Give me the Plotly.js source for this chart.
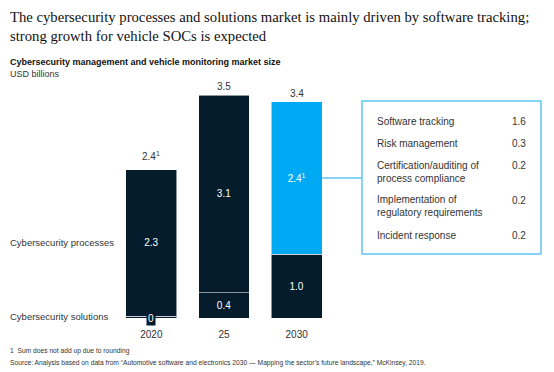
<!DOCTYPE html>
<html>
<head>
<meta charset="utf-8">
<script src="https://cdn.plot.ly/plotly-3.0.1.min.js"></script>
<style>html,body{margin:0;padding:0;background:#fff;}#chart{width:554px;height:372px;}</style>
</head>
<body>
<div id="chart"></div>
<script>
// ---- data ----
var years = ['2020', '25', '2030'];
var solutions = [0.03, 0.4, 1.0];
var solutionLabels = ['', '0.4', '1.0'];
var processes = [2.3, 3.1, 2.4];
var processLabels = ['2.3', '3.1', '2.4<sup>1</sup>'];
var totals = [2.4, 3.5, 3.4];
var totalLabels = ['2.4<sup>1</sup>', '3.5', '3.4'];
var breakdownNames = ['Software tracking', 'Risk management', 'Certification/auditing of<br>process compliance', 'Implementation of<br>regulatory requirements', 'Incident response'];
var breakdownValues = [1.6, 0.3, 0.2, 0.2, 0.2];

var NAVY = '#051C2C', BLUE = '#00A9F4', TXT = '#333333';
var SANS = '"Liberation Sans", Arial, sans-serif';

var traces = [
  {type: 'bar', x: years, y: solutions, text: solutionLabels, textposition: 'inside',
   insidetextanchor: 'middle', textangle: 0,
   textfont: {color: '#ffffff', size: 10, family: SANS},
   marker: {color: NAVY, line: {color: 'rgba(255,255,255,0.55)', width: 1}},
   hoverinfo: 'skip', showlegend: false},
  {type: 'bar', x: years, y: processes, text: processLabels, textposition: 'inside',
   insidetextanchor: 'middle', textangle: 0,
   textfont: {color: '#ffffff', size: 10, family: SANS},
   marker: {color: [NAVY, NAVY, BLUE], line: {color: 'rgba(255,255,255,0.55)', width: 1}},
   hoverinfo: 'skip', showlegend: false}
];

var ann = [];
// title
ann.push({x: -0.491, y: 1.272, xref: 'paper', yref: 'paper',
  text: 'The cybersecurity processes and solutions market is mainly driven by software tracking;<br>strong growth for vehicle SOCs is expected',
  showarrow: false, xanchor: 'left', yanchor: 'middle', align: 'left',
  font: {family: '"Liberation Serif", "Times New Roman", serif', size: 14.7, color: '#111'}});
// totals (category index positions)
for (var i = 0; i < years.length; i++) {
  ann.push({x: i, y: totals[i], xref: 'x', yref: 'y', text: totalLabels[i], showarrow: false,
    yanchor: 'bottom', yshift: 1, font: {size: 10, color: TXT, family: SANS}});
}
// "0" label for 2020 solutions
ann.push({x: 0, y: 0, xref: 'x', yref: 'y', text: '0', showarrow: false, yanchor: 'middle',
  bgcolor: NAVY, borderpad: 1, font: {size: 10, color: '#ffffff', family: SANS}});
// left row labels
ann.push({x: -0.491, y: processes[0] / 2 + solutions[0], xref: 'paper', yref: 'y', text: 'Cybersecurity processes',
  showarrow: false, xanchor: 'left', font: {size: 9.5, color: TXT, family: SANS}});
ann.push({x: -0.491, y: solutions[0], xref: 'paper', yref: 'y', text: 'Cybersecurity solutions',
  showarrow: false, xanchor: 'left', font: {size: 9.5, color: TXT, family: SANS}});
// subtitle
ann.push({x: -0.491, y: 1.118, xref: 'paper', yref: 'paper', text: '<b>Cybersecurity management and vehicle monitoring market size</b>',
  showarrow: false, xanchor: 'left', yanchor: 'middle', font: {size: 9, color: '#111', family: SANS}});
ann.push({x: -0.491, y: 1.066, xref: 'paper', yref: 'paper', text: 'USD billions',
  showarrow: false, xanchor: 'left', yanchor: 'middle', font: {size: 9, color: TXT, family: SANS}});
// footnotes
ann.push({x: -0.491, y: -0.144, xref: 'paper', yref: 'paper', text: '1  Sum does not add up due to rounding',
  showarrow: false, xanchor: 'left', yanchor: 'middle', font: {size: 6.7, color: TXT, family: SANS}});
ann.push({x: -0.491, y: -0.197, xref: 'paper', yref: 'paper',
  text: 'Source: Analysis based on data from \u201cAutomotive software and electronics 2030 \u2014 Mapping the sector\u2019s future landscape,\u201d McKinsey, 2019.',
  showarrow: false, xanchor: 'left', yanchor: 'middle', font: {size: 6.7, color: TXT, family: SANS}});
// breakdown box rows
var rowY = [0.856, 0.760, 0.638, 0.487, 0.362];
var valY = [0.856, 0.760, 0.664, 0.515, 0.362];
for (var j = 0; j < breakdownNames.length; j++) {
  ann.push({x: 1.193, y: rowY[j], xref: 'paper', yref: 'paper', text: breakdownNames[j], showarrow: false,
    xanchor: 'left', yanchor: 'middle', align: 'left', font: {size: 10, color: TXT, family: SANS}});
  ann.push({x: 1.894, y: valY[j], xref: 'paper', yref: 'paper', text: breakdownValues[j].toFixed(1), showarrow: false,
    xanchor: 'right', yanchor: 'middle', font: {size: 10, color: TXT, family: SANS}});
}

var layout = {
  width: 554, height: 372,
  margin: {l: 115, r: 221, t: 89, b: 54},
  paper_bgcolor: '#ffffff', plot_bgcolor: '#ffffff',
  barmode: 'stack', bargap: 0.3,
  xaxis: {type: 'category', range: [-0.5, 2.5], showgrid: false, zeroline: false, showline: false, ticks: '',
    ticklabelstandoff: 9,
    tickfont: {size: 10, color: TXT, family: SANS}, fixedrange: true},
  yaxis: {range: [0, 3.6], visible: false, fixedrange: true},
  showlegend: false,
  annotations: ann,
  shapes: [
    {type: 'rect', xref: 'paper', yref: 'paper', x0: 1.133, x1: 1.954, y0: 0.279, y1: 0.948,
     line: {color: '#5FC6F2', width: 1.5}, fillcolor: 'rgba(0,0,0,0)'},
    {type: 'line', xref: 'paper', yref: 'paper', x0: 0.95, x1: 1.133, y0: 0.611, y1: 0.611,
     line: {color: '#5FC6F2', width: 1.5}}
  ]
};

Plotly.newPlot('chart', traces, layout, {displayModeBar: false, staticPlot: true});
</script>
</body>
</html>
